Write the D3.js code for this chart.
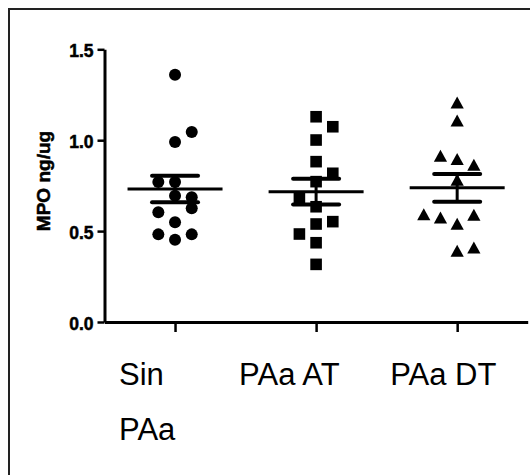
<!DOCTYPE html>
<html>
<head>
<meta charset="utf-8">
<script src="https://cdn.jsdelivr.net/npm/d3@7"></script>
<style>
body { margin: 0; background: #fff; }
svg { display: block; }
.axis path, .axis line { stroke: #000; }
.axis text { font-family: Arial, "Liberation Sans", sans-serif; font-weight: bold; font-size: 17.5px; fill: #000; stroke: #000; stroke-width: 0.5px; }
</style>
</head>
<body>
<svg id="chart" width="530" height="475"></svg>
<script>
// groups on the x axis
var categories = ["Sin PAa", "PAa AT", "PAa DT"];

// MPO ng/ug
var sinPAa = [1.36, 1.045, 0.99, 0.77, 0.77, 0.695, 0.686, 0.626, 0.604, 0.549, 0.482, 0.482, 0.453];
var paaAT  = [1.129, 1.074, 1.001, 0.882, 0.818, 0.772, 0.680, 0.634, 0.552, 0.539, 0.484, 0.436, 0.317];
var paaDT  = [1.206, 1.107, 0.913, 0.895, 0.864, 0.781, 0.592, 0.589, 0.574, 0.539, 0.409, 0.391];

// scatter column of each point (0 = on the tick)
var sinPAaCol = [0, 1, 0, -1, 0, 0, 1, 1, -1, 0, -1, 1, 0];
var paaATCol  = [0, 1, 0, 0, 1, 0, -1, 0, 1, 0, -1, 0, 0];
var paaDTCol  = [0, 0, -1, 0, 1, 0, -2, 1, -1, 0, 1, 0];

var yTicks = [0, 0.5, 1.0, 1.5];

var svg = d3.select("#chart");

// frame
svg.append("rect")
    .attr("x", 9).attr("y", 9)
    .attr("width", 540).attr("height", 490)
    .attr("fill", "none")
    .attr("stroke", "#222")
    .attr("stroke-width", 2);

var x = d3.scalePoint().domain(categories).range([104.5, 527.7]).padding(0.5);
var y = d3.scaleLinear().domain([0, 1.5]).range([322, 49.3]);
var colStep = 16.7;

var groups = [
  { name: categories[0], values: sinPAa, cols: sinPAaCol, shape: "circle", labelDx: -56 },
  { name: categories[1], values: paaAT, cols: paaATCol, shape: "square", labelDx: -77 },
  { name: categories[2], values: paaDT, cols: paaDTCol, shape: "triangle", labelDx: -67 }
];

// y axis
var yAxis = svg.append("g")
    .attr("class", "axis")
    .attr("transform", "translate(104.5,0)")
    .call(d3.axisLeft(y).tickValues(yTicks).tickFormat(d3.format(".1f")).tickSize(7).tickSizeOuter(0).tickPadding(4));
yAxis.select(".domain").attr("stroke-width", 3);
yAxis.selectAll(".tick line").attr("stroke-width", 2.5);
yAxis.selectAll(".tick text").attr("dy", null).attr("y", 7.5);

// x axis
var xAxis = svg.append("g")
    .attr("class", "axis")
    .attr("transform", "translate(0,322)")
    .call(d3.axisBottom(x).tickSize(10).tickSizeOuter(0).tickFormat(""));
xAxis.select(".domain").attr("stroke-width", 3);
xAxis.selectAll(".tick line").attr("stroke-width", 2.5);

// category labels (wrapped, left aligned)
groups.forEach(function(g) {
  var words = g.name === "Sin PAa" ? ["Sin", "PAa"] : [g.name];
  words.forEach(function(w, i) {
    svg.append("text")
        .attr("x", x(g.name) + g.labelDx)
        .attr("y", 385 + i * 55)
        .attr("font-family", "Arial, 'Liberation Sans', sans-serif")
        .attr("font-size", 31)
        .attr("fill", "#000")
        .text(w);
  });
});

// y axis title
svg.append("text")
    .attr("transform", "translate(50,181) rotate(-90)")
    .attr("text-anchor", "middle")
    .attr("font-family", "Arial, 'Liberation Sans', sans-serif")
    .attr("font-weight", "bold")
    .attr("font-size", 19)
    .attr("fill", "#000")
    .attr("stroke", "#000")
    .attr("stroke-width", 0.5)
    .text("MPO ng/ug");

function shapePath(shape) {
  if (shape === "circle") return d3.symbol(d3.symbolCircle, Math.PI * 36)();
  if (shape === "square") return "M-5.8,-5.8H5.8V5.8H-5.8Z";
  return "M0,-6.2L6.6,5.8H-6.6Z";
}

groups.forEach(function(g) {
  var cx = x(g.name);
  var pts = g.values.map(function(v, i) { return { v: v, c: g.cols[i] }; });

  svg.append("g").selectAll("path")
    .data(pts)
    .enter().append("path")
      .attr("d", shapePath(g.shape))
      .attr("fill", "#000")
      .attr("transform", function(d) { return "translate(" + (cx + d.c * colStep) + "," + y(d.v) + ")"; });

  var m = d3.mean(g.values);
  var sem = d3.deviation(g.values) / Math.sqrt(g.values.length);

  var s = svg.append("g").attr("stroke", "#000").attr("fill", "none");
  s.append("line")
      .attr("x1", cx - 47.5).attr("x2", cx + 47.5)
      .attr("y1", y(m)).attr("y2", y(m))
      .attr("stroke-width", 3);
  s.append("line")
      .attr("x1", cx).attr("x2", cx)
      .attr("y1", y(m + sem)).attr("y2", y(m - sem))
      .attr("stroke-width", 3);
  [m + sem, m - sem].forEach(function(v) {
    s.append("line")
        .attr("x1", cx - 23).attr("x2", cx + 23)
        .attr("y1", y(v)).attr("y2", y(v))
        .attr("stroke-width", 4)
        .attr("stroke-linecap", "round");
  });
});
</script>
</body>
</html>
